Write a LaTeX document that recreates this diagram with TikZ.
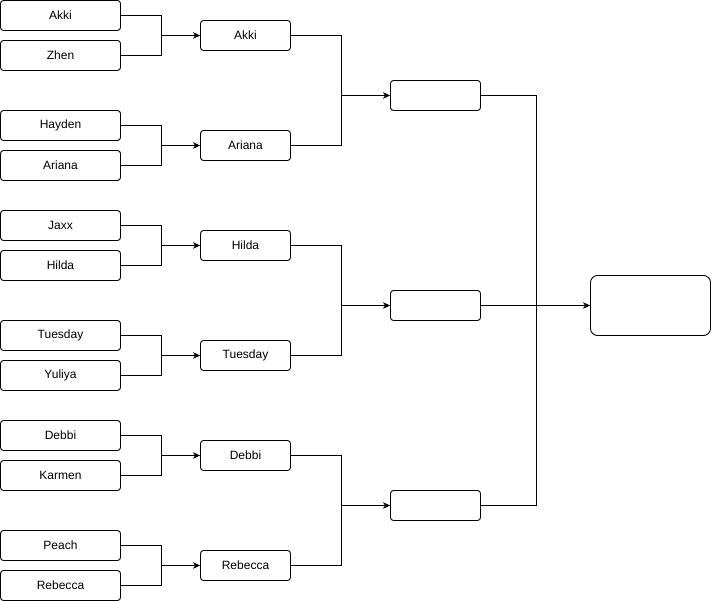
\documentclass[tikz,border=0pt]{standalone}
\usepackage{fontspec}
\setmainfont{Liberation Sans}
\usetikzlibrary{arrows.meta}

\tikzset{
	player/.style={draw=black, line width=0.9pt, rounded corners=3pt, minimum width=120pt, minimum height=30pt, inner sep=0pt, font=\fontsize{12}{14}\selectfont},
	winner/.style={player, minimum width=90pt},
	champ/.style={player, minimum height=60pt, rounded corners=7pt},
	link/.style={draw=black, line width=0.9pt},
	feed/.style={link, -{Stealth[length=7pt,width=6.5pt,inset=2pt]}}
}

\begin{document}
\begin{tikzpicture}[x=1pt,y=-1pt]
		\useasboundingbox (0,0) rectangle (711,601);
		% first round
		\node [player] (akki1) at (60.5,15.5) {Akki};
		\node [player] (zhen) at (60.5,55.5) {Zhen};
		\node [player] (hayden) at (60.5,125.5) {Hayden};
		\node [player] (ariana1) at (60.5,165.5) {Ariana};
		\node [player] (jaxx) at (60.5,225.5) {Jaxx};
		\node [player] (hilda1) at (60.5,265.5) {Hilda};
		\node [player] (tuesday1) at (60.5,335.5) {Tuesday};
		\node [player] (yuliya) at (60.5,375.5) {Yuliya};
		\node [player] (debbi1) at (60.5,435.5) {Debbi};
		\node [player] (karmen) at (60.5,475.5) {Karmen};
		\node [player] (peach) at (60.5,545.5) {Peach};
		\node [player] (rebecca1) at (60.5,585.5) {Rebecca};
		% second round
		\node [winner] (akki2) at (245.5,35.5) {Akki};
		\node [winner] (ariana2) at (245.5,145.5) {Ariana};
		\node [winner] (hilda2) at (245.5,245.5) {Hilda};
		\node [winner] (tuesday2) at (245.5,355.5) {Tuesday};
		\node [winner] (debbi2) at (245.5,455.5) {Debbi};
		\node [winner] (rebecca2) at (245.5,565.5) {Rebecca};
		% semi final and final
		\node [winner] (semi1) at (435.5,95.5) {};
		\node [winner] (semi2) at (435.5,305.5) {};
		\node [winner] (semi3) at (435.5,505.5) {};
		\node [champ] (final) at (650.5,305.5) {};
		% first round brackets
		\draw [link] (akki1.east) -- ++(40,0) coordinate (j1) |- (zhen.east);
		\draw [feed] (j1 |- akki2.west) -- (akki2.west);
		\draw [link] (hayden.east) -- ++(40,0) coordinate (j2) |- (ariana1.east);
		\draw [feed] (j2 |- ariana2.west) -- (ariana2.west);
		\draw [link] (jaxx.east) -- ++(40,0) coordinate (j3) |- (hilda1.east);
		\draw [feed] (j3 |- hilda2.west) -- (hilda2.west);
		\draw [link] (tuesday1.east) -- ++(40,0) coordinate (j4) |- (yuliya.east);
		\draw [feed] (j4 |- tuesday2.west) -- (tuesday2.west);
		\draw [link] (debbi1.east) -- ++(40,0) coordinate (j5) |- (karmen.east);
		\draw [feed] (j5 |- debbi2.west) -- (debbi2.west);
		\draw [link] (peach.east) -- ++(40,0) coordinate (j6) |- (rebecca1.east);
		\draw [feed] (j6 |- rebecca2.west) -- (rebecca2.west);
		% second round brackets
		\draw [link] (akki2.east) -- ++(50,0) coordinate (k1) |- (ariana2.east);
		\draw [feed] (k1 |- semi1.west) -- (semi1.west);
		\draw [link] (hilda2.east) -- ++(50,0) coordinate (k2) |- (tuesday2.east);
		\draw [feed] (k2 |- semi2.west) -- (semi2.west);
		\draw [link] (debbi2.east) -- ++(50,0) coordinate (k3) |- (rebecca2.east);
		\draw [feed] (k3 |- semi3.west) -- (semi3.west);
		% final bracket
		\draw [link] (semi1.east) -- ++(55,0) |- (semi3.east);
		\draw [feed] (semi2.east) -- (final.west);
	\end{tikzpicture}
\end{document}
